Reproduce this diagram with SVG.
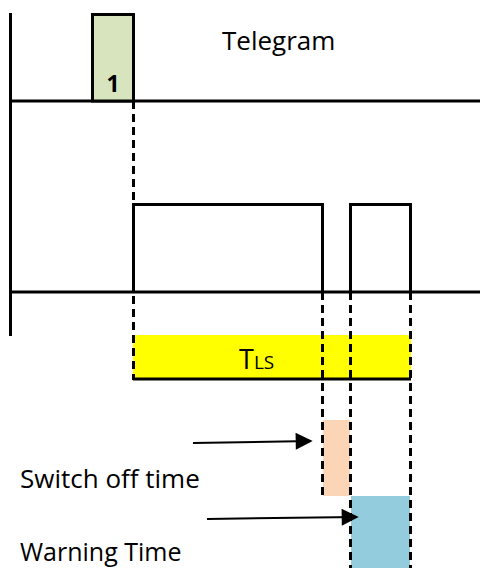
<svg xmlns="http://www.w3.org/2000/svg" width="480" height="569" viewBox="0 0 480 569">
<defs>
<style>
.ln{stroke:#000;stroke-width:3;fill:none}
.dash{stroke:#000;stroke-width:3;fill:none;stroke-dasharray:8,5}
.lbl{font-family:"Open Sans","Liberation Sans",sans-serif;fill:#000}
.arr{stroke:#000;stroke-width:2;fill:none}
</style>
<marker id="ah" viewBox="0 0 10 10" refX="9" refY="5" markerWidth="18" markerHeight="17" markerUnits="userSpaceOnUse" orient="auto">
<path d="M0,0 L10,5 L0,10 z" fill="#000"/>
</marker>
</defs>
<rect width="480" height="569" fill="#fff"/>
<g id="axes">
<line class="ln" x1="10.5" y1="13" x2="10.5" y2="336"/>
<line class="ln" x1="10" y1="101" x2="480" y2="101"/>
<line class="ln" x1="10" y1="292" x2="480" y2="292"/>
</g>
<g id="telegram">
<rect x="92.5" y="14.5" width="41" height="86.5" fill="#d7e4bd" stroke="#000" stroke-width="3"/>
<text class="lbl" x="113" y="92" font-size="23" font-weight="bold" text-anchor="middle">1</text>
<text class="lbl" x="222" y="50" font-size="26">Telegram</text>
</g>
<g id="signal">
<polyline class="ln" points="133.5,292 133.5,204.5 322.5,204.5 322.5,292"/>
<polyline class="ln" points="350.5,292 350.5,204.5 410.5,204.5 410.5,292"/>
</g>
<g id="tls">
<rect x="133" y="335" width="278" height="44" fill="#ffff00"/>
<line class="ln" x1="133" y1="379" x2="411" y2="379"/>
<text class="lbl" x="239" y="369" font-size="27">T<tspan font-size="19">LS</tspan></text>
</g>
<g id="switchoff">
<rect x="323" y="420" width="27" height="76" fill="#fbd5b5"/>
<text class="lbl" x="20" y="488" font-size="26">Switch off time</text>
</g>
<g id="warning">
<rect x="351" y="496" width="59" height="72" fill="#93cddd"/>
<text class="lbl" x="20" y="561" font-size="25">Warning Time</text>
</g>
<g id="connectors">
<line class="dash" x1="133.5" y1="101" x2="133.5" y2="380"/>
<line class="dash" x1="322.5" y1="292" x2="322.5" y2="496"/>
<line class="dash" x1="350.5" y1="292" x2="350.5" y2="568"/>
<line class="dash" x1="410.5" y1="292" x2="410.5" y2="568"/>
<line class="arr" x1="193" y1="443" x2="311" y2="441" marker-end="url(#ah)"/>
<line class="arr" x1="207" y1="519" x2="357" y2="517" marker-end="url(#ah)"/>
</g>
</svg>
